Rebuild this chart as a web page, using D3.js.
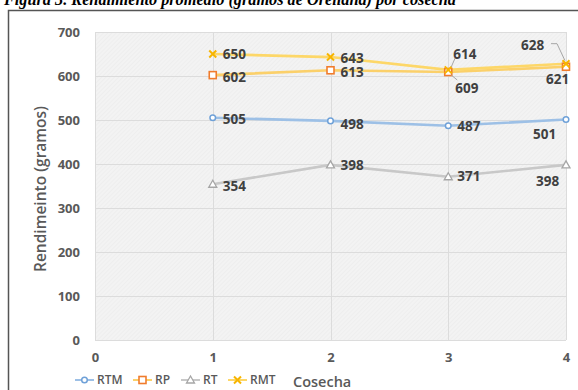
<!DOCTYPE html>
<html>
<head>
<meta charset="utf-8">
<script src="https://cdn.jsdelivr.net/npm/d3@7"></script>
<style>
  html, body { margin: 0; padding: 0; background: #fff; }
  svg { display: block; }
</style>
</head>
<body>
<svg id="chart" width="578" height="390"></svg>
<script>
// Cosecha (harvest) index and average yield per treatment, in grams
const cosechas = [1, 2, 3, 4];
const rtm = [505, 498, 487, 501];
const rp  = [602, 613, 609, 621];
const rt  = [354, 398, 371, 398];
const rmt = [650, 643, 614, 628];
const xTicks = [0, 1, 2, 3, 4];
const yTicks = [0, 100, 200, 300, 400, 500, 600, 700];

const svg = d3.select("#chart");
const W = 578, H = 390;
const plot = { left: 95, right: 566, top: 32, bottom: 340 };
const font = "'Open Sans', Lato, sans-serif";
const axisColor = "#595959";
const labelColor = "#404040";

const x = d3.scaleLinear().domain([0, 4]).range([plot.left, plot.right]);
const y = d3.scaleLinear().domain([0, 700]).range([plot.bottom, plot.top]);

// Figure caption, partly above the page edge
svg.append("text")
  .attr("x", 4).attr("y", 5)
  .attr("font-family", "'Liberation Serif', serif")
  .attr("font-weight", "bold").attr("font-style", "italic")
  .attr("font-size", 16).attr("fill", "#000")
  .attr("textLength", 452).attr("lengthAdjust", "spacingAndGlyphs")
  .text("Figura 3. Rendimiento promedio (gramos de Orellana) por cosecha");

// Chart frame
svg.append("path")
  .attr("d", `M8.5,${H} L8.5,10.5 L${W},10.5`)
  .attr("fill", "none").attr("stroke", "#555").attr("stroke-width", 1.5);

// Plot area with fine diagonal texture
const defs = svg.append("defs");
const pat = defs.append("pattern")
  .attr("id", "hatch").attr("width", 3).attr("height", 3)
  .attr("patternUnits", "userSpaceOnUse")
  .attr("patternTransform", "rotate(45)");
pat.append("rect").attr("width", 3).attr("height", 3).attr("fill", "#f3f3f3");
pat.append("line").attr("x1", 0).attr("y1", 0).attr("x2", 0).attr("y2", 3)
  .attr("stroke", "#e9e9e9").attr("stroke-width", 1);

svg.append("rect")
  .attr("x", plot.left).attr("y", plot.top)
  .attr("width", plot.right - plot.left).attr("height", plot.bottom - plot.top)
  .attr("fill", "url(#hatch)");

// Gridlines
const grid = svg.append("g").attr("stroke", "#dcdcdc").attr("stroke-width", 1);
yTicks.forEach(t => grid.append("line")
  .attr("x1", plot.left).attr("x2", plot.right)
  .attr("y1", Math.round(y(t)) + 0.5).attr("y2", Math.round(y(t)) + 0.5));
xTicks.forEach(t => grid.append("line")
  .attr("y1", plot.top).attr("y2", plot.bottom)
  .attr("x1", Math.round(x(t)) + 0.5).attr("x2", Math.round(x(t)) + 0.5));

// Axes (labels only, no domain lines)
const yAxis = svg.append("g")
  .attr("transform", `translate(${plot.left - 15},0)`)
  .call(d3.axisLeft(y).tickValues(yTicks).tickSize(0).tickPadding(0));
const xAxis = svg.append("g")
  .attr("transform", `translate(0,${plot.bottom + 12})`)
  .call(d3.axisBottom(x).tickValues(xTicks).tickSize(0).tickPadding(0).tickFormat(d3.format("d")));
[yAxis, xAxis].forEach(g => {
  g.select(".domain").remove();
  g.selectAll("text")
    .attr("font-family", font).attr("font-weight", 700)
    .attr("font-size", 13).attr("fill", axisColor);
});
xAxis.selectAll("text").attr("dy", "0.75em");

// Axis titles
svg.append("text")
  .attr("transform", `translate(46,${(plot.top + plot.bottom) / 2 + 3}) rotate(-90)`)
  .attr("text-anchor", "middle")
  .attr("font-family", font).attr("font-weight", 600)
  .attr("font-size", 15.5).attr("fill", axisColor)
  .text("Rendimeinto (gramos)");
svg.append("text")
  .attr("x", 293).attr("y", 387)
  .attr("font-family", font).attr("font-weight", 600)
  .attr("font-size", 14.5).attr("fill", axisColor)
  .text("Cosecha");

// Marker shapes
function drawMarker(g, kind, cx, cy, color) {
  if (kind === "diamond") {
    g.append("circle").attr("cx", cx).attr("cy", cy).attr("r", 2.8)
      .attr("fill", "#fff").attr("stroke", color).attr("stroke-width", 1.5);
  } else if (kind === "square") {
    g.append("rect").attr("x", cx - 3.5).attr("y", cy - 3.5).attr("width", 7).attr("height", 7)
      .attr("fill", "#fff").attr("stroke", color).attr("stroke-width", 1.6);
  } else if (kind === "triangle") {
    g.append("path")
      .attr("d", `M${cx},${cy - 4} L${cx + 4},${cy + 3} L${cx - 4},${cy + 3} Z`)
      .attr("fill", "#fff").attr("stroke", color).attr("stroke-width", 1.3);
  } else if (kind === "x") {
    g.append("path")
      .attr("d", `M${cx - 3.5},${cy - 3.5} L${cx + 3.5},${cy + 3.5} M${cx + 3.5},${cy - 3.5} L${cx - 3.5},${cy + 3.5}`)
      .attr("stroke", color).attr("stroke-width", 2);
  }
}

const series = [
  { name: "RTM", values: rtm, line: "#9dc0e6", marker: "#6fa1d8", kind: "diamond" },
  { name: "RP",  values: rp,  line: "#fbd06a", marker: "#f07c2c", kind: "square" },
  { name: "RT",  values: rt,  line: "#c8c8c8", marker: "#a6a6a6", kind: "triangle" },
  { name: "RMT", values: rmt, line: "#fdd768", marker: "#f7b500", kind: "x" }
];

const line = d3.line().x(d => x(d[0])).y(d => y(d[1]));
series.forEach(s => {
  const pts = cosechas.map((c, i) => [c, s.values[i]]);
  svg.append("path").datum(pts)
    .attr("d", line).attr("fill", "none")
    .attr("stroke", s.line).attr("stroke-width", 2.6);
});
series.forEach(s => {
  const g = svg.append("g");
  cosechas.forEach((c, i) => drawMarker(g, s.kind, x(c), y(s.values[i]), s.marker));
});

// Data labels: [series, index, dx, dy, leader line]
const labelSpecs = [
  ["RMT", 0, 10, 0, false], ["RP", 0, 10, 2, false], ["RTM", 0, 10, 1, false], ["RT", 0, 10, 2, false],
  ["RMT", 1, 10, 1, false], ["RP", 1, 10, 2, false], ["RTM", 1, 10, 3, false], ["RT", 1, 10, 0, false],
  ["RMT", 2, 5, -16, true], ["RP", 2, 7, 16, true], ["RTM", 2, 9, 1, false], ["RT", 2, 9, 0, false],
  ["RMT", 3, -45, -18, true], ["RP", 3, -20, 13, false], ["RTM", 3, -33, 15, false], ["RT", 3, -30, 16, false]
];
const byName = Object.fromEntries(series.map(s => [s.name, s]));
const labels = svg.append("g");
labelSpecs.forEach(([name, i, dx, dy, leader]) => {
  const s = byName[name];
  const px = x(cosechas[i]), py = y(s.values[i]);
  const tx = px + dx, ty = py + dy;
  if (leader) {
    const lx = dx > 0 ? tx + 2 : tx + 30;
    const ly = dy < 0 ? ty + 4 : ty - 8;
    labels.append("path")
      .attr("d", dx > 0
        ? `M${px + 3},${py + (dy < 0 ? -3 : 3)} L${lx},${ly}`
        : `M${px - 1},${py - 3} L${lx + 6},${ly - 6} L${lx},${ly - 6}`)
      .attr("fill", "none").attr("stroke", "#a6a6a6").attr("stroke-width", 1);
  }
  labels.append("text")
    .attr("x", tx).attr("y", ty).attr("dy", "0.35em")
    .attr("font-family", font).attr("font-weight", 700)
    .attr("font-size", 13.5).attr("fill", labelColor)
    .text(s.values[i]);
});

// Legend
const legend = svg.append("g");
const legendX = [75, 133, 181, 228];
series.forEach((s, i) => {
  const lx = legendX[i], ly = 380;
  legend.append("line").attr("x1", lx).attr("x2", lx + 19).attr("y1", ly).attr("y2", ly)
    .attr("stroke", s.line).attr("stroke-width", 2);
  drawMarker(legend, s.kind, lx + 9.5, ly, s.marker);
  legend.append("text").attr("x", lx + 22).attr("y", ly).attr("dy", "0.35em")
    .attr("font-family", font).attr("font-weight", 600)
    .attr("font-size", 12).attr("fill", axisColor)
    .text(s.name);
});
</script>
</body>
</html>
